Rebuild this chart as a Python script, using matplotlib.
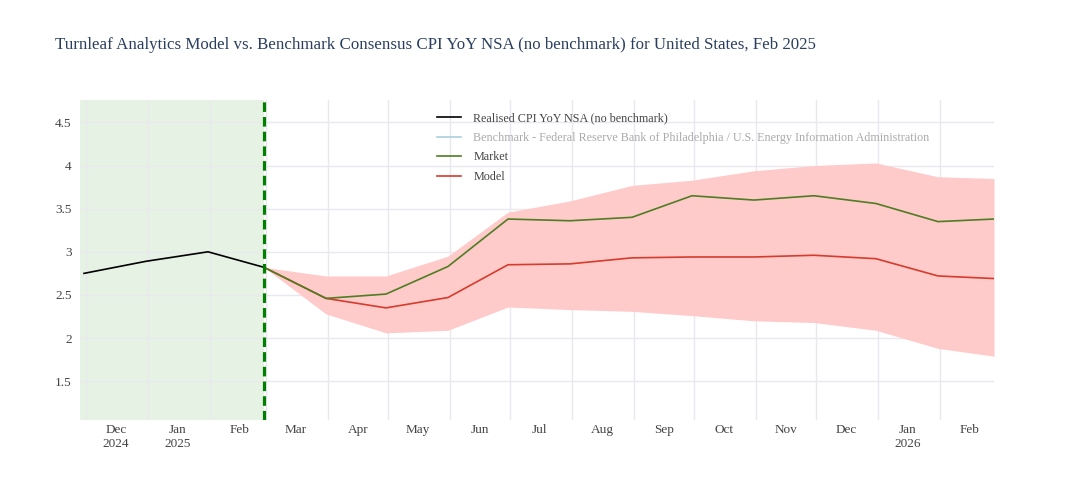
import matplotlib
matplotlib.use("Agg")
import matplotlib.pyplot as plt
import matplotlib.dates as mdates
from matplotlib.lines import Line2D
from matplotlib.ticker import FixedLocator, NullFormatter
import pandas as pd

# data ---------------------------------------------------------------
realised_dates = ["2024-11-30", "2024-12-31", "2025-01-31", "2025-02-28"]
realised = [2.75, 2.89, 3.00, 2.82]

fc_dates = ["2025-02-28", "2025-03-31", "2025-04-30", "2025-05-31", "2025-06-30",
            "2025-07-31", "2025-08-31", "2025-09-30", "2025-10-31", "2025-11-30",
            "2025-12-31", "2026-01-31", "2026-02-28"]
market = [2.82, 2.46, 2.51, 2.83, 3.38, 3.36, 3.40, 3.65, 3.60, 3.65, 3.56, 3.35, 3.38]
model = [2.82, 2.46, 2.35, 2.47, 2.85, 2.86, 2.93, 2.94, 2.94, 2.96, 2.92, 2.72, 2.69]
model_hi = [2.82, 2.72, 2.72, 2.95, 3.46, 3.59, 3.77, 3.83, 3.94, 4.00, 4.03, 3.87, 3.85]
model_lo = [2.82, 2.28, 2.06, 2.09, 2.36, 2.33, 2.31, 2.26, 2.20, 2.18, 2.09, 1.88, 1.79]

labels = ["Realised CPI YoY NSA (no benchmark)",
          "Benchmark - Federal Reserve Bank of Philadelphia / U.S. Energy Information Administration",
          "Market", "Model"]
title = ("Turnleaf Analytics Model vs. Benchmark Consensus CPI YoY NSA (no benchmark) "
         "for United States, Feb 2025")

x_start = pd.Timestamp("2024-11-28")
x_end = pd.Timestamp("2026-02-28")
split = pd.Timestamp("2025-02-28")

# style ---------------------------------------------------------------
plt.rcParams['font.family'] = ['Liberation Serif', 'DejaVu Serif']
txt = '#444444'
grid = '#e8e8ee'

rd = pd.to_datetime(realised_dates)
fd = pd.to_datetime(fc_dates)

fig = plt.figure(figsize=(10.74, 5.0), dpi=100)
ax = fig.add_axes([80 / 1074, 1 - 420 / 500, (994 - 80) / 1074, 320 / 500])

ax.axvspan(x_start, split, color='#e6f2e4', zorder=0.1, lw=0)
ax.fill_between(fd, model_lo, model_hi, color='#ffcaca', lw=0, zorder=1)
l_real, = ax.plot(rd, realised, color='black', lw=1.2, zorder=3)
l_bench = Line2D([], [], color='#a9cfe0', lw=1.2)
l_mod, = ax.plot(fd, model, color='#d63c2c', lw=1.2, zorder=3)
l_mkt, = ax.plot(fd, market, color='#4f7d22', lw=1.2, zorder=4)
ax.axvline(split, color='#008000', lw=2.3, ls=(0, (3, 1.6)), zorder=5)

ax.set_xlim(x_start, x_end)
ax.set_ylim(1.05, 4.76)

# month grid at month starts, labels centred mid-month
month_starts = pd.date_range("2024-12-01", "2026-02-01", freq="MS")
ax.xaxis.set_major_locator(FixedLocator(mdates.date2num(month_starts)))
ax.xaxis.set_major_formatter(NullFormatter())
mids = [m + pd.Timedelta(days=15) for m in month_starts]
mid_labels = []
for m in mids:
    s = m.strftime("%b")
    if m.month == 1 or m == mids[0]:
        s += "\n" + m.strftime("%Y")
    mid_labels.append(s)
ax.set_xticks(mdates.date2num(mids), minor=True)
ax.set_xticklabels(mid_labels, minor=True)
ax.tick_params(axis='x', which='both', length=0)
ax.tick_params(axis='x', which='minor', pad=3, labelsize=9.5, labelcolor=txt)

ax.set_yticks([1.5, 2, 2.5, 3, 3.5, 4, 4.5])
ax.set_yticklabels(["1.5", "2", "2.5", "3", "3.5", "4", "4.5"])
ax.tick_params(axis='y', length=0, pad=6, labelsize=9.5, labelcolor=txt)

ax.grid(True, which='major', color=grid, lw=1)
ax.set_axisbelow(True)
for sp in ax.spines.values():
    sp.set_visible(False)

fig.text(55 / 1074, 1 - 45 / 500, title, fontsize=12.2, color='#2a3f5f', va='center', ha='left')

leg = fig.legend([l_real, l_bench, l_mkt, l_mod], labels,
                 loc='upper left', bbox_to_anchor=(437 / 1074, 1 - 112 / 500),
                 frameon=False, fontsize=8.7, handlelength=2.0, handletextpad=1.0,
                 labelspacing=0.64, borderaxespad=0, borderpad=0)
for t, c in zip(leg.get_texts(), [txt, '#aaaaaa', txt, txt]):
    t.set_color(c)

fig.savefig("out.png", dpi=100)
